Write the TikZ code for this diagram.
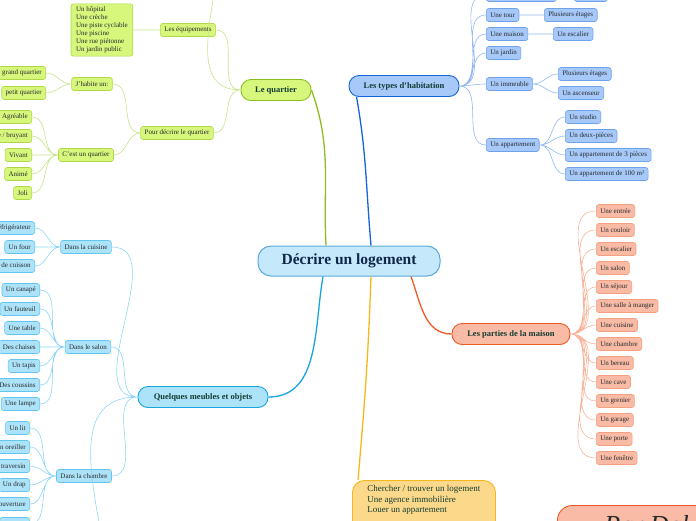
\documentclass[tikz,border=0pt]{standalone}
\usepackage{fontspec}
\setmainfont{Liberation Serif}
\usepackage{tikz}
\definecolor{rootfill}{HTML}{C5E9FA}
\definecolor{rootdraw}{HTML}{5AA9DB}
\definecolor{rootink}{HTML}{10264A}
\definecolor{topicink}{HTML}{123B33}
\definecolor{leafink}{HTML}{26282C}
\definecolor{quartfill}{HTML}{D6F77C}
\definecolor{quartdraw}{HTML}{AED846}
\definecolor{quartmain}{HTML}{8CBF1E}
\definecolor{quartlink}{HTML}{C5E58A}
\definecolor{typefill}{HTML}{A6C9F9}
\definecolor{typedraw}{HTML}{6EA2EC}
\definecolor{typemain}{HTML}{1664D9}
\definecolor{typelink}{HTML}{93B9F0}
\definecolor{partfill}{HTML}{F9BBA5}
\definecolor{partdraw}{HTML}{F5A080}
\definecolor{partmain}{HTML}{EE5A26}
\definecolor{partlink}{HTML}{F8B49A}
\definecolor{meubfill}{HTML}{ADE3F9}
\definecolor{meubdraw}{HTML}{62C6F1}
\definecolor{meubmain}{HTML}{18A3E1}
\definecolor{meublink}{HTML}{8ED6F5}
\definecolor{yelfill}{HTML}{FCD98A}
\definecolor{yeldraw}{HTML}{F6B71A}
\tikzset{
  root/.style   = {draw=rootdraw, fill=rootfill, line width=1pt, rounded corners=13pt,
                   minimum width=182pt, minimum height=30pt, text=rootink,
                   font=\bfseries\fontsize{15.5}{18}\selectfont},
  topic/.style  = {line width=0.9pt, rounded corners=10pt, minimum height=21pt, inner sep=2pt,
                   text=topicink, font=\bfseries\fontsize{8.5}{10}\selectfont},
  leaf/.style   = {line width=0.6pt, rounded corners=2.5pt, minimum height=13pt, inner xsep=4pt,
                   inner ysep=1.5pt, text=leafink, font=\fontsize{7}{8}\selectfont},
  qleaf/.style  = {leaf, draw=quartdraw, fill=quartfill},
  tleaf/.style  = {leaf, draw=typedraw, fill=typefill},
  pleaf/.style  = {leaf, draw=partdraw, fill=partfill},
  mleaf/.style  = {leaf, draw=meubdraw, fill=meubfill},
  search/.style = {draw=yeldraw, fill=yelfill, line width=0.9pt, rounded corners=12pt, align=left,
                   inner xsep=14pt, inner ysep=5pt, minimum width=143pt, text depth=40pt,
                   text=topicink, font=\fontsize{9}{10.5}\selectfont},
  author/.style = {draw=partmain, fill=partfill, line width=0.9pt, rounded corners=15pt,
                   inner xsep=47pt, inner ysep=4pt, text height=24pt, text depth=20pt,
                   text=leafink, font=\itshape\fontsize{26}{30}\selectfont},
  branch/.style = {line width=1.3pt},
  twig/.style   = {line width=0.6pt},
}
\begin{document}
\begin{tikzpicture}[x=1pt,y=-1pt]
  \useasboundingbox (0,0) rectangle (696,520);
  \clip (0,0) rectangle (696,520);
  % centre and main topics
  \node[root] (root) at (349,261) {Décrire un logement};
  \node[topic, fill=quartfill, draw=quartmain, minimum width=70pt] (quartier) at (276,90) {Le quartier};
  \node[topic, fill=typefill, draw=typemain, minimum width=110pt] (types) at (404,86) {Les types d'habitation};
  \node[topic, fill=partfill, draw=partmain, minimum width=118pt] (parties) at (511,334) {Les parties de la maison};
  \node[topic, fill=meubfill, draw=meubmain, minimum width=130pt] (meubles) at (203,397) {Quelques meubles et objets};
  \node[search, anchor=north west] (search) at (352,480)
    {Chercher / trouver un logement\\Une agence immobilière\\Louer un appartement};
  \node[author, anchor=north west] (author) at (557,505) {Par Dal};
  \draw[branch, quartmain] ([xshift=-23pt]root.north) to[out=93,in=-70] (quartier.east);
  \draw[branch, typemain] ([xshift=22pt]root.north) to[out=95,in=-80] ([xshift=8pt]types.south west);
  \draw[branch, meubmain] ([xshift=-26pt]root.south) to[out=-100,in=0] (meubles.east);
  \draw[branch, partmain] ([xshift=62pt]root.south) to[out=-70,in=180] (parties.west);
  \draw[branch, yeldraw] ([xshift=22pt]root.south) to[out=-92,in=85] ([xshift=6pt]search.north west);
  % le quartier
  \coordinate (qabove) at (220,-60);
  \node[qleaf] (equip) at (188,30) {Les équipements};
  \node[qleaf, anchor=east, align=left, inner xsep=5pt, inner ysep=3pt]
    (equiplist) at (133,30) {Un hôpital\\Une crèche\\Une piste cyclable\\Une piscine\\Une rue piétonne\\Un jardin public};
  \node[qleaf] (decrire) at (177,133) {Pour décrire le quartier};
  \node[qleaf] (habite) at (92,84) {J'habite un:};
  \node[qleaf, anchor=east] (grand) at (46,73) {grand quartier};
  \node[qleaf, anchor=east] (petit) at (46,93) {petit quartier};
  \node[qleaf] (cest) at (86,155) {C'est un quartier};
  \node[qleaf, anchor=east] (agreable) at (32,117) {Agréable};
  \node[qleaf, anchor=east] (calme) at (32,136) {Calme / bruyant};
  \node[qleaf, anchor=east] (vivant) at (32,155) {Vivant};
  \node[qleaf, anchor=east] (anime) at (32,174) {Animé};
  \node[qleaf, anchor=east] (joli) at (32,193) {Joli};
  \draw[twig, quartlink] (quartier.west) to[out=180,in=-90] (qabove)
    (quartier.west) to[out=180,in=0] (equip.east)
    (quartier.west) to[out=180,in=0] (decrire.east)
    (equip.west) -- (equiplist.east)
    (decrire.west) to[out=180,in=0] (habite.east)
    (decrire.west) to[out=180,in=0] (cest.east)
    (habite.west) to[out=180,in=0] (grand.east)
    (habite.west) to[out=180,in=0] (petit.east)
    (cest.west) to[out=180,in=0] (agreable.east)
    (cest.west) to[out=180,in=0] (calme.east)
    (cest.west) to[out=180,in=0] (vivant.east)
    (cest.west) to[out=180,in=0] (anime.east)
    (cest.west) to[out=180,in=0] (joli.east);
  % les types d'habitation
  \node[tleaf, anchor=west, minimum width=70pt] (typetop) at (486,-5) {};
  \node[tleaf, anchor=west, minimum width=33pt] (typetopx) at (574,-5) {};
  \node[tleaf, anchor=west] (tour) at (486,15) {Une tour};
  \node[tleaf, anchor=west] (tourx) at (544,15) {Plusieurs étages};
  \node[tleaf, anchor=west] (maison) at (486,34) {Une maison};
  \node[tleaf, anchor=west] (escalier) at (553,34) {Un escalier};
  \node[tleaf, anchor=west] (jardin) at (486,53) {Un jardin};
  \node[tleaf, anchor=west] (immeuble) at (486,84) {Un immeuble};
  \node[tleaf, anchor=west] (etages) at (558,74) {Plusieurs étages};
  \node[tleaf, anchor=west] (ascenseur) at (558,93) {Un ascenseur};
  \node[tleaf, anchor=west] (appart) at (486,145) {Un appartement};
  \node[tleaf, anchor=west] (studio) at (565,117) {Un studio};
  \node[tleaf, anchor=west] (deuxp) at (565,136) {Un deux-pièces};
  \node[tleaf, anchor=west] (troisp) at (565,155) {Un appartement de 3 pièces};
  \node[tleaf, anchor=west] (centm) at (565,174) {Un appartement de 100 m²};
  \draw[twig, typelink] (types.east) to[out=0,in=180] (typetop.west)
    (types.east) to[out=0,in=180] (tour.west)
    (types.east) to[out=0,in=180] (maison.west)
    (types.east) to[out=0,in=180] (jardin.west)
    (types.east) to[out=0,in=180] (immeuble.west)
    (types.east) to[out=0,in=180] (appart.west)
    (typetop.east) -- (typetopx.west)
    (tour.east) -- (tourx.west)
    (maison.east) -- (escalier.west)
    (immeuble.east) to[out=0,in=180] (etages.west)
    (immeuble.east) to[out=0,in=180] (ascenseur.west)
    (appart.east) to[out=0,in=180] (studio.west)
    (appart.east) to[out=0,in=180] (deuxp.west)
    (appart.east) to[out=0,in=180] (troisp.west)
    (appart.east) to[out=0,in=180] (centm.west);
  % les parties de la maison
  \node[pleaf, anchor=west] (entree) at (596,211) {Une entrée};
  \node[pleaf, anchor=west] (couloir) at (596,230) {Un couloir};
  \node[pleaf, anchor=west] (pescalier) at (596,249) {Un escalier};
  \node[pleaf, anchor=west] (psalon) at (596,268) {Un salon};
  \node[pleaf, anchor=west] (sejour) at (596,287) {Un séjour};
  \node[pleaf, anchor=west] (salle) at (596,306) {Une salle à manger};
  \node[pleaf, anchor=west] (pcuisine) at (596,325) {Une cuisine};
  \node[pleaf, anchor=west] (pchambre) at (596,344) {Une chambre};
  \node[pleaf, anchor=west] (bereau) at (596,363) {Un bereau};
  \node[pleaf, anchor=west] (cave) at (596,382) {Une cave};
  \node[pleaf, anchor=west] (grenier) at (596,401) {Un grenier};
  \node[pleaf, anchor=west] (garage) at (596,420) {Un garage};
  \node[pleaf, anchor=west] (porte) at (596,439) {Une porte};
  \node[pleaf, anchor=west] (fenetre) at (596,458) {Une fenêtre};
  \draw[twig, partlink] (parties.east) to[out=0,in=180] (entree.west)
    (parties.east) to[out=0,in=180] (couloir.west)
    (parties.east) to[out=0,in=180] (pescalier.west)
    (parties.east) to[out=0,in=180] (psalon.west)
    (parties.east) to[out=0,in=180] (sejour.west)
    (parties.east) to[out=0,in=180] (salle.west)
    (parties.east) to[out=0,in=180] (pcuisine.west)
    (parties.east) to[out=0,in=180] (pchambre.west)
    (parties.east) to[out=0,in=180] (bereau.west)
    (parties.east) to[out=0,in=180] (cave.west)
    (parties.east) to[out=0,in=180] (grenier.west)
    (parties.east) to[out=0,in=180] (garage.west)
    (parties.east) to[out=0,in=180] (porte.west)
    (parties.east) to[out=0,in=180] (fenetre.west);
  % quelques meubles et objets
  \coordinate (mbelow) at (112,620);
  \node[mleaf] (cuisine) at (86,247) {Dans la cuisine};
  \node[mleaf, anchor=east] (frigo) at (35,228) {Un réfrigérateur};
  \node[mleaf, anchor=east] (four) at (35,247) {Un four};
  \node[mleaf, anchor=east] (plaque) at (35,266) {Une plaque de cuisson};
  \node[mleaf] (salon) at (88,347) {Dans le salon};
  \node[mleaf, anchor=east] (canape) at (40,290) {Un canapé};
  \node[mleaf, anchor=east] (fauteuil) at (40,309) {Un fauteuil};
  \node[mleaf, anchor=east] (table) at (40,328) {Une table};
  \node[mleaf, anchor=east] (chaises) at (40,347) {Des chaises};
  \node[mleaf, anchor=east] (tapis) at (40,366) {Un tapis};
  \node[mleaf, anchor=east] (coussins) at (40,385) {Des coussins};
  \node[mleaf, anchor=east] (lampe) at (40,404) {Une lampe};
  \node[mleaf] (chambre) at (84,476) {Dans la chambre};
  \node[mleaf, anchor=east] (lit) at (30,428) {Un lit};
  \node[mleaf, anchor=east] (oreiller) at (30,447) {Un oreiller};
  \node[mleaf, anchor=east] (traversin) at (30,466) {Un traversin};
  \node[mleaf, anchor=east] (drap) at (30,485) {Un drap};
  \node[mleaf, anchor=east] (couverture) at (30,504) {Une couverture};
  \node[mleaf, anchor=east, minimum width=30pt] (mlast) at (30,524) {};
  \draw[twig, meublink] (meubles.west) to[out=180,in=0] (cuisine.east)
    (meubles.west) to[out=180,in=0] (salon.east)
    (meubles.west) to[out=180,in=0] (chambre.east)
    (meubles.west) to[out=180,in=90] (mbelow)
    (cuisine.west) to[out=180,in=0] (frigo.east)
    (cuisine.west) to[out=180,in=0] (four.east)
    (cuisine.west) to[out=180,in=0] (plaque.east)
    (salon.west) to[out=180,in=0] (canape.east)
    (salon.west) to[out=180,in=0] (fauteuil.east)
    (salon.west) to[out=180,in=0] (table.east)
    (salon.west) to[out=180,in=0] (chaises.east)
    (salon.west) to[out=180,in=0] (tapis.east)
    (salon.west) to[out=180,in=0] (coussins.east)
    (salon.west) to[out=180,in=0] (lampe.east)
    (chambre.west) to[out=180,in=0] (lit.east)
    (chambre.west) to[out=180,in=0] (oreiller.east)
    (chambre.west) to[out=180,in=0] (traversin.east)
    (chambre.west) to[out=180,in=0] (drap.east)
    (chambre.west) to[out=180,in=0] (couverture.east)
    (chambre.west) to[out=180,in=0] (mlast.east);
\end{tikzpicture}
\end{document}
